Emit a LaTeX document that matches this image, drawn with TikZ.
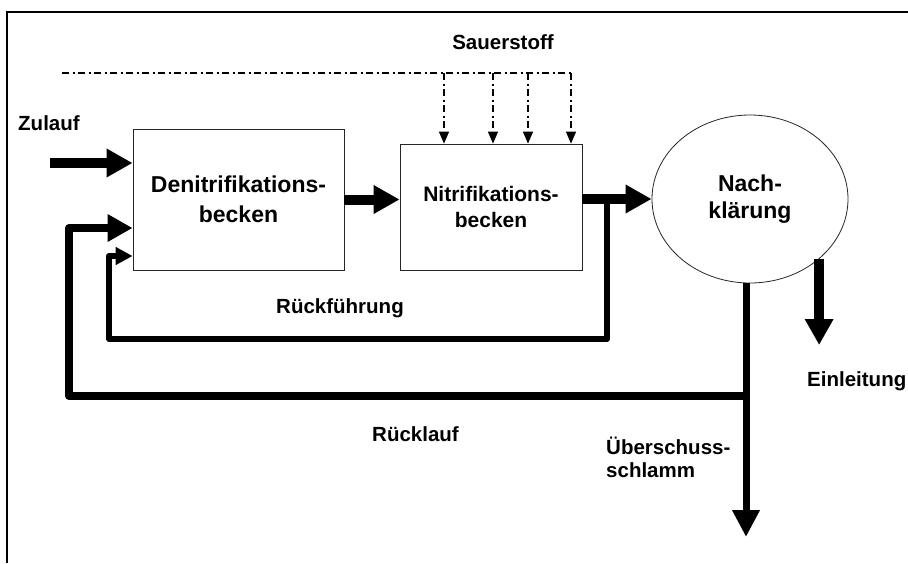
\documentclass[tikz,border=0pt]{standalone}
\usepackage{fontspec}
\setmainfont{Liberation Sans}
\usetikzlibrary{arrows.meta, shapes.geometric}

\begin{document}
\begin{tikzpicture}[
        x=1pt, y=-1pt,
        becken/.style={draw=black!85, line width=0.8pt, inner sep=0pt, align=center},
        lbl/.style={inner sep=0pt, font=\fontsize{20.5}{23}\selectfont\bfseries},
        flow/.style={line width=10pt, -{Triangle[length=26pt, width=27pt]}},
        ruecklauf/.style={line width=8pt, line join=round, line cap=round, -{Triangle[length=25pt, width=26pt]}},
        rueckf/.style={line width=6pt, line join=round, line cap=round, -{Triangle[length=17pt, width=17pt]}},
        abzug/.style={line width=7pt, -{Triangle[length=27pt, width=26pt]}},
        luft/.style={line width=1.5pt, dash pattern=on 7pt off 3.5pt on 2pt off 3.5pt},
        luftpfeil/.style={luft, -{Triangle[length=12pt, width=10pt]}}
    ]
    \useasboundingbox (0,0) rectangle (908,563);
    % Rahmen
    \draw[line width=2pt] (7,563) -- (7,12) -- (908,12);

    % Becken und Nachklaerung
    \node[becken, minimum width=211pt, minimum height=141pt, font=\fontsize{23}{30}\selectfont\bfseries] (deni) at (238.5,199.5) {Denitrifikations-\\becken};
    \node[becken, minimum width=182pt, minimum height=126pt, font=\fontsize{21}{26}\selectfont\bfseries] (nitri) at (491,207) {Nitrifikations-\\becken};
    \node[becken, ellipse, minimum width=196pt, minimum height=168pt, font=\fontsize{23}{27}\selectfont\bfseries] (nach) at (750,199) {Nach-\\klärung};

    % Beschriftungen
    \node[lbl, anchor=base] (lblO2) at (503,49) {Sauerstoff};
    \node[lbl, anchor=base west] (lblZu) at (18,130) {Zulauf};
    \node[lbl, anchor=base] (lblRf) at (340,313) {Rückführung};
    \node[lbl, anchor=base west] (lblRl) at (372,441) {Rücklauf};
    \node[lbl, anchor=north west, align=left] (lblUs) at (606,437) {Überschuss-\\schlamm};
    \node[lbl, anchor=base west] (lblEin) at (807,386) {Einleitung};

    % Sauerstoffzufuhr
    \coordinate (o0) at (62,73);
    \coordinate (o4) at (571,73);
    \draw[luft] (o0) -- (o4);
    \foreach \x in {444,493,528,571}
        \draw[luftpfeil] (\x,73) -- (\x,73 |- nitri.north);

    % Hauptstrom
    \coordinate (zu) at (50,163);
    \draw[flow] (zu) -- (zu -| deni.west);
    \draw[flow] (deni.east) -- (deni.east -| nitri.west);
    \draw[flow] (nach.west -| nitri.east) -- (nach.west);
    \coordinate (einl) at (822,345);
    \draw[flow] (nach.-41) -- (nach.-41 |- einl);

    % Rueckfuehrung
    \coordinate (rf1) at (607,339);
    \coordinate (rf2) at (109,339);
    \coordinate (rf3) at (109,256);
    \draw[rueckf] (rf1 |- nach.west) -- (rf1) -- (rf2) -- (rf3) -- (rf3 -| deni.west);

    % Ruecklauf und Ueberschussschlamm
    \coordinate (rl1) at (746,396);
    \coordinate (rl2) at (69,396);
    \coordinate (rl3) at (69,228);
    \coordinate (usEnd) at (746,537);
    \draw[abzug] (rl1 |- nach.south) -- (usEnd);
    \draw[ruecklauf] (rl1) -- (rl2) -- (rl3) -- (rl3 -| deni.west);
\end{tikzpicture}
\end{document}
